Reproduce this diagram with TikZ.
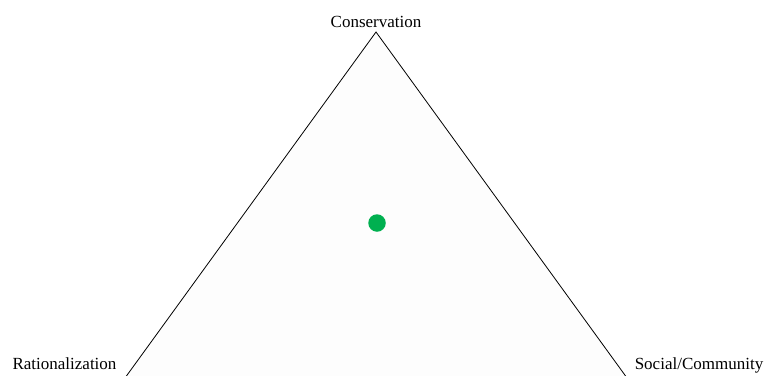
\documentclass[tikz,border=0pt]{standalone}
\usepackage{fontspec}
\setmainfont{Liberation Serif}
\usepackage{tikz}

\definecolor{dotgreen}{HTML}{00B050}

\begin{document}
\begin{tikzpicture}[
    x=1pt, y=-1pt,
    font=\fontsize{17}{20}\selectfont,
    % Styles
    corner_label/.style={anchor=base, inner sep=0pt},
    triangle_edge/.style={black, line width=0.8pt, fill=gray!1.5, line join=miter},
    position_dot/.style={circle, fill=dotgreen, inner sep=0pt, minimum size=17.5pt}
]

    % ==========================================
    % 1. CANVAS
    % ==========================================
    \useasboundingbox (0,0) rectangle (767,375);
    \clip (0,0) rectangle (767,375);

    % ==========================================
    % 2. TRIANGLE CORNERS
    % ==========================================
    \coordinate (apex) at (376, 32);
    \coordinate (left_corner) at (109, 400);
    \coordinate (right_corner) at (643, 400);

    % ==========================================
    % 3. TRIANGLE
    % ==========================================
    \draw[triangle_edge] (apex) -- (left_corner) -- (right_corner) -- cycle;

    % ==========================================
    % 4. LABELS
    % ==========================================
    \node[corner_label] (conservation) at ([yshift=5pt]apex) {Conservation};
    \node[corner_label] (rationalization) at (64.5, 369) {Rationalization};
    \node[corner_label] (social) at (699, 369) {Social/Community};

    % ==========================================
    % 5. POSITION
    % ==========================================
    \node[position_dot] (position) at (377, 223) {};

\end{tikzpicture}
\end{document}
